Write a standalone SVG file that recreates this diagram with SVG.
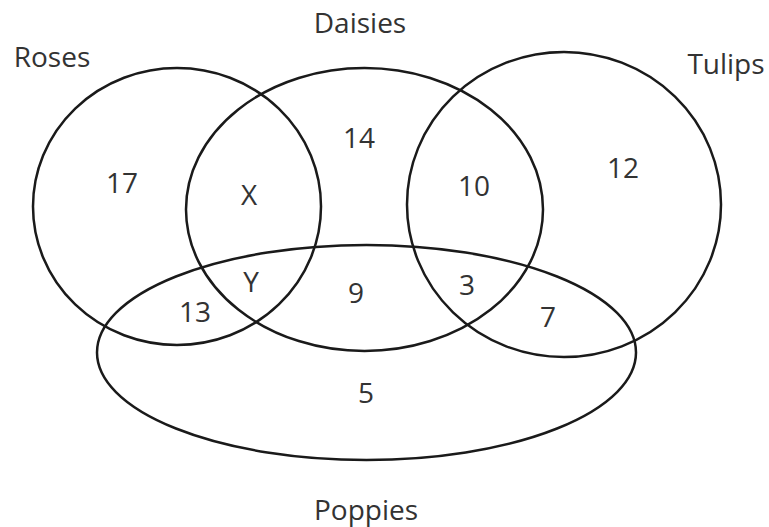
<svg xmlns="http://www.w3.org/2000/svg" width="769" height="527" viewBox="0 0 769 527">
<style>
.set{fill:none;stroke:#1a1a1a;stroke-width:2.5}
.lbl{font-family:"Open Sans","Liberation Sans",sans-serif;font-size:28px;fill:#333;text-anchor:middle}
</style>
<rect width="769" height="527" fill="#fff"/>
<g id="roses">
<ellipse class="set" cx="177" cy="206.5" rx="144" ry="138.5"/>
<text class="lbl" x="52" y="67">Roses</text>
</g>
<g id="daisies">
<ellipse class="set" cx="364.5" cy="209.5" rx="178.5" ry="141.5"/>
<text class="lbl" x="360" y="33">Daisies</text>
</g>
<g id="tulips">
<ellipse class="set" cx="564" cy="204.5" rx="157" ry="152.5"/>
<text class="lbl" x="726" y="74">Tulips</text>
</g>
<g id="poppies">
<ellipse class="set" cx="366.5" cy="352.5" rx="269.5" ry="107.5"/>
<text class="lbl" x="366" y="520">Poppies</text>
</g>
<g id="regions">
<text class="lbl" x="122" y="193">17</text>
<text class="lbl" x="249" y="205">X</text>
<text class="lbl" x="359" y="148">14</text>
<text class="lbl" x="474" y="196">10</text>
<text class="lbl" x="623" y="178">12</text>
<text class="lbl" x="251" y="292">Y</text>
<text class="lbl" x="195" y="322">13</text>
<text class="lbl" x="356" y="303">9</text>
<text class="lbl" x="467" y="295">3</text>
<text class="lbl" x="548" y="327">7</text>
<text class="lbl" x="366" y="403">5</text>
</g>
</svg>
